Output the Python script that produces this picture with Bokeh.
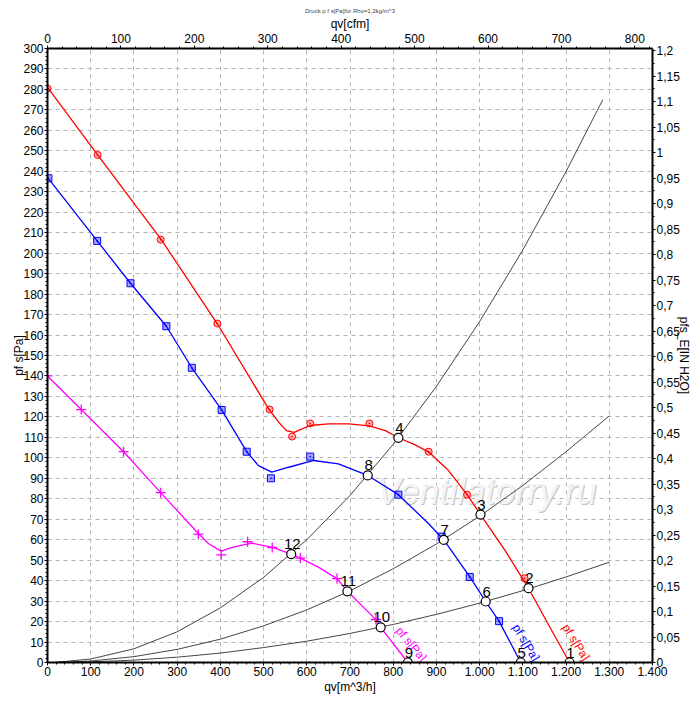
from bokeh.plotting import figure
from bokeh.models import (Range1d, LinearAxis, SingleIntervalTicker,
                          CustomJSTickFormatter)
from bokeh.core.properties import value
from bokeh.embed import file_html
from bokeh.resources import INLINE

FONT = "Liberation Sans"

# ---------------- data ----------------
# Red fan curve (line) and its measured points
red_line_q = [0, 116, 262, 393, 512, 535, 553, 571, 585, 608, 650, 697, 745, 782, 812, 851, 883, 928, 971, 1002, 1059, 1113, 1160, 1208]
red_line_p = [281, 248, 207, 165.5, 123.8, 117.4, 113.3, 112.4, 113.8, 115.8, 116.6, 116.6, 115.6, 113.3, 109.8, 106.3, 102.7, 93.8, 82, 72.3, 54.7, 36.3, 18.2, 0]
red_pts_q = [0, 116, 262, 393, 514, 566, 608, 745, 882, 971, 1104]
red_pts_p = [280.5, 248, 206.6, 165.6, 123.6, 110.4, 116.8, 116.8, 103, 82, 41.2]

# Blue fan curve
blue_line_q = [0, 115, 192, 275, 334, 403, 461, 488, 519, 558, 616, 673, 741, 812, 882, 917, 977, 1014, 1045, 1095]
blue_line_p = [237, 206, 185.3, 164.3, 144, 123.4, 103, 96.2, 93, 95.4, 98.7, 97, 91.4, 82, 67.8, 59.9, 42, 29.8, 20.2, 0]
blue_pts_q = [2, 115, 192, 275, 334, 403, 461, 517, 608, 812, 912, 977, 1045]
blue_pts_p = [236.6, 206, 185.3, 164.3, 144, 123.4, 103, 90, 100.6, 82, 61.5, 41.8, 20.2]

# Magenta fan curve
mag_line_q = [0, 78, 176, 262, 349, 373, 402, 427, 473, 521, 564, 585, 627, 670, 694, 758, 771, 834]
mag_line_p = [140, 123.6, 103, 83, 63, 58, 54.4, 56.3, 58.3, 56.2, 53, 51, 46.6, 41, 34.8, 21.3, 17.2, 0]
mag_pts_q = [0, 78, 176, 262, 349, 402, 463, 520, 585, 670, 760]
mag_pts_p = [140, 123.6, 103, 83, 62.7, 52.6, 59, 56.2, 51, 41, 21]

# System (resistance) curves
sysA_q = [20, 100, 200, 300, 400, 500, 600, 700, 800, 900, 1000, 1100, 1200, 1285]
sysA_p = [0.1, 1.7, 6.7, 15.0, 26.7, 41.6, 60.0, 81.6, 106.6, 134.9, 166.6, 201.6, 239.9, 275.0]
sysB_q = [20, 100, 200, 300, 400, 500, 600, 700, 800, 900, 1000, 1100, 1200, 1300]
sysB_p = [0.03, 0.72, 2.86, 6.4, 11.4, 17.9, 25.7, 35.0, 45.8, 57.9, 71.5, 86.5, 103.0, 120.5]
sysC_q = [20, 100, 200, 300, 400, 500, 600, 700, 800, 900, 1000, 1100, 1200, 1300]
sysC_p = [0.01, 0.29, 1.16, 2.6, 4.6, 7.3, 10.4, 14.2, 18.6, 23.5, 29.0, 35.1, 41.8, 49.0]

# Operating points
op_labels = ["1", "2", "3", "4", "5", "6", "7", "8", "9", "10", "11", "12"]
op_q = [1208, 1113, 1002, 812, 1095, 1014, 917, 741, 834, 771, 694, 564]
op_p = [0, 36.3, 72.3, 109.8, 0, 29.8, 59.9, 91.4, 0, 17.2, 34.8, 53]

CFM_MAX = 1400 / 1.699
INH2O_MAX = 300 / 249.09

# ---------------- figure ----------------
p = figure(frame_width=605, frame_height=614, x_range=Range1d(0, 1400), y_range=Range1d(0, 300),
           output_backend="svg", toolbar_location=None,
           min_border_left=47, min_border_right=33, min_border_top=48, min_border_bottom=28)
p.extra_x_ranges = {"cfm": Range1d(0, CFM_MAX)}
p.extra_y_ranges = {"inh2o": Range1d(0, INH2O_MAX)}
p.outline_line_color = None
p.background_fill_color = "white"
p.border_fill_color = "white"

p.title.text = "Druck p f s[Pa]für Rho=1,2kg/m^3"
p.title.align = "center"
p.title.text_font = FONT
p.title.text_font_size = "6px"
p.title.text_font_style = "normal"
p.title.standoff = 0

def style_axis(ax):
    ax.axis_line_width = 2
    ax.axis_line_color = "black"
    ax.major_tick_line_color = "black"
    ax.minor_tick_line_color = "black"
    ax.major_tick_in = 0
    ax.major_tick_out = 3
    ax.minor_tick_in = 0
    ax.minor_tick_out = 2
    ax.major_label_text_font = FONT
    ax.major_label_text_font_size = "12px"
    ax.major_label_text_color = "black"
    ax.axis_label_text_font = FONT
    ax.axis_label_text_font_size = "12px"
    ax.axis_label_text_font_style = "normal"
    ax.axis_label_text_color = "black"
    ax.major_label_standoff = 1
    ax.axis_label_standoff = 1

xb = p.xaxis[0]
xb.ticker = SingleIntervalTicker(interval=100, num_minor_ticks=5)
xb.formatter = CustomJSTickFormatter(code="""
const v = Math.round(tick);
return v.toString().replace(/\\B(?=(\\d{3})+(?!\\d))/g, '.');
""")
xb.axis_label = "qv[m^3/h]"
style_axis(xb)

yl = p.yaxis[0]
yl.ticker = SingleIntervalTicker(interval=10, num_minor_ticks=5)
yl.axis_label = "pf s[Pa]"
style_axis(yl)
yl.axis_label_standoff = -6

xt = LinearAxis(x_range_name="cfm", ticker=SingleIntervalTicker(interval=100, num_minor_ticks=5),
                axis_label="qv[cfm]")
style_axis(xt)
xt.major_label_standoff = 3
xt.axis_label_standoff = 0
p.add_layout(xt, "above")

yr = LinearAxis(y_range_name="inh2o", ticker=SingleIntervalTicker(interval=0.05, num_minor_ticks=2),
                axis_label="pfs_E[IN H2O]")
yr.formatter = CustomJSTickFormatter(code="""
let s = tick.toFixed(2);
s = s.replace(/0+$/, '').replace(/\\.$/, '');
return s.replace('.', ',');
""")
style_axis(yr)
yr.axis_label_standoff = -6
p.add_layout(yr, "right")

for g in (p.xgrid[0], p.ygrid[0]):
    g.grid_line_color = "#b4b4b4"
    g.grid_line_dash = "4 4"
    g.grid_line_width = 1

# watermark (drawn first so that the curves lie above it)
p.text(x=[762], y=[83.5], text=["Ventilatorry.ru"], text_font=value(FONT),
       text_font_size="36px", text_font_style="italic", text_color="#c4c4c4",
       text_align="left", text_baseline="middle", x_offset=1, y_offset=1)
p.text(x=[762], y=[83.5], text=["Ventilatorry.ru"], text_font=value(FONT),
       text_font_size="36px", text_font_style="italic", text_color="#f4f4f4",
       text_align="left", text_baseline="middle")

# system curves
for qq, pp in ((sysA_q, sysA_p), (sysB_q, sysB_p), (sysC_q, sysC_p)):
    p.line(qq, pp, line_color="#303030", line_width=0.9)

# fan curves
p.line(red_line_q, red_line_p, line_color="#ff0000", line_width=1.3)
p.line(blue_line_q, blue_line_p, line_color="#0000ff", line_width=1.3)
p.line(mag_line_q, mag_line_p, line_color="#ff00ff", line_width=1.3)

p.scatter(red_pts_q, red_pts_p, marker="circle_dot", size=7, line_color="#ff0000",
          fill_color="#ff0000", fill_alpha=0.3, line_width=1)
p.scatter(blue_pts_q, blue_pts_p, marker="square_dot", size=7, line_color="#0000ff",
          fill_color="#0000ff", fill_alpha=0.35, line_width=1)
p.scatter(mag_pts_q, mag_pts_p, marker="cross", size=10, line_color="#ff00ff", line_width=1.3)

# curve labels
for xq, yp, ang, col in ((1184, 16.5, -1.01, "#ff0000"), (1069, 16.5, -1.03, "#0000ff"),
                         (799, 14.5, -0.88, "#ff00ff")):
    p.text(x=[xq], y=[yp], text=["pf s[Pa]"], angle=ang, text_color=col,
           text_font=value(FONT), text_font_size="12px",
           text_align="left", text_baseline="bottom")

# operating points
p.scatter(op_q, op_p, marker="circle", size=9, line_color="black", fill_color="white", line_width=1.2)
p.text(x=op_q, y=op_p, text=op_labels, text_color="black", text_font=value(FONT),
       text_font_size="15px", text_align="center", text_baseline="middle",
       x_offset=1, y_offset=-10)

open("out.html", "w").write(file_html(p, INLINE))
